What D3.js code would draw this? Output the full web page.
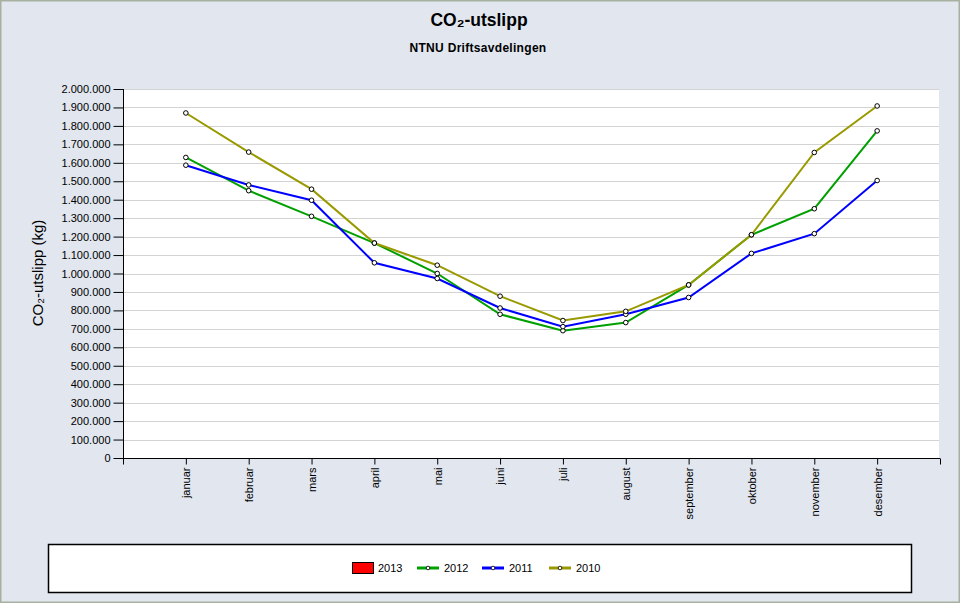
<!DOCTYPE html>
<html>
<head>
<meta charset="utf-8">
<script src="https://cdn.jsdelivr.net/npm/d3@7"></script>
<style>
  html, body { margin: 0; padding: 0; background: #fff; }
  svg { display: block; font-family: Arial, "Liberation Sans", sans-serif; }
</style>
</head>
<body>
<svg id="chart" width="960" height="603"></svg>
<script>
// ---- Data ----
const months = ["januar","februar","mars","april","mai","juni","juli","august","september","oktober","november","desember"];
const values2012 = [1629000, 1449000, 1310000, 1165000, 1000000, 779000, 690000, 734000, 938000, 1210000, 1351000, 1773000];
const values2011 = [1587000, 1480000, 1397000, 1058000, 973000, 813000, 712000, 779000, 870000, 1109000, 1216000, 1504000];
const values2010 = [1870000, 1658000, 1457000, 1165000, 1045000, 877000, 745000, 795000, 938000, 1210000, 1656000, 1908000];
const values2013 = []; // legend only, no data drawn
const yTicks = d3.range(0, 2000001, 100000);
const legendItems = [
  { label: "2013", type: "bar",  color: "#ff0000" },
  { label: "2012", type: "line", color: "#00a000" },
  { label: "2011", type: "line", color: "#0000ff" },
  { label: "2010", type: "line", color: "#999900" }
];
const series = [
  { name: "2012", color: "#00a000", values: values2012 },
  { name: "2011", color: "#0000ff", values: values2011 },
  { name: "2010", color: "#999900", values: values2010 }
];

// ---- Layout ----
const W = 960, H = 603;
const plot = { left: 123, right: 940, top: 89, bottom: 458 };
const svg = d3.select("#chart");

const nl = d3.formatLocale({ decimal: ",", thousands: ".", grouping: [3], currency: ["", ""] });
const fmt = nl.format(",d");

// background + frame
svg.append("rect").attr("x", 0).attr("y", 0).attr("width", W).attr("height", H).attr("fill", "#e1e6ef");
svg.append("rect").attr("x", 0.75).attr("y", 0.75).attr("width", W - 1.5).attr("height", H - 1.5)
  .attr("fill", "none").attr("stroke", "#a7b1a0").attr("stroke-width", 1.5);

// titles
svg.append("text").attr("x", 479).attr("y", 26).attr("text-anchor", "middle")
  .attr("font-size", 17.5).attr("font-weight", "bold").attr("fill", "#000").text("CO₂-utslipp");
svg.append("text").attr("x", 478).attr("y", 52).attr("text-anchor", "middle")
  .attr("font-size", 12).attr("font-weight", "bold").attr("letter-spacing", 0.3)
  .attr("fill", "#000").text("NTNU Driftsavdelingen");

// scales
const x = d3.scaleLinear().domain([0, 13]).range([plot.left, plot.right]);
const y = d3.scaleLinear().domain([0, 2000000]).range([plot.bottom, plot.top]);

// plot bg
svg.append("rect").attr("x", plot.left).attr("y", plot.top)
  .attr("width", plot.right - 1 - plot.left).attr("height", plot.bottom - plot.top).attr("fill", "#fff");

// gridlines
svg.append("g").selectAll("line").data(yTicks.filter(d => d > 0)).join("line")
  .attr("x1", plot.left).attr("x2", plot.right - 1)
  .attr("y1", d => Math.round(y(d)) + 0.5).attr("y2", d => Math.round(y(d)) + 0.5)
  .attr("stroke", "#d3d3d3").attr("stroke-width", 1);

// y axis
const yAxis = d3.axisLeft(y).tickValues(yTicks).tickFormat(fmt).tickSize(10).tickPadding(3);
const gy = svg.append("g").attr("transform", `translate(${plot.left + 0.5},0)`).call(yAxis);
gy.select(".domain").attr("d", `M0,${plot.top}V${plot.bottom + 6}`).attr("stroke", "#000");
gy.selectAll(".tick line").attr("stroke", "#000");
gy.selectAll(".tick text").attr("font-size", 11).attr("fill", "#000")
  .attr("font-family", "Arial, 'Liberation Sans', sans-serif");

// x axis
const xAxis = d3.axisBottom(x).tickValues(d3.range(0, 14))
  .tickFormat(d => (d >= 1 && d <= 12) ? months[d - 1] : "").tickSize(6);
const gx = svg.append("g").attr("transform", `translate(0,${plot.bottom + 0.5})`).call(xAxis);
gx.select(".domain").attr("d", `M${plot.left},0H${plot.right}`).attr("stroke", "#000");
gx.selectAll(".tick line").attr("stroke", "#000");
gx.selectAll(".tick text")
  .attr("font-size", 11).attr("fill", "#000")
  .attr("font-family", "Arial, 'Liberation Sans', sans-serif")
  .attr("text-anchor", "end")
  .attr("transform", "rotate(-90)")
  .attr("x", -9).attr("y", 0).attr("dy", "0.35em");

// y label
svg.append("text").attr("transform", "translate(43,273) rotate(-90)")
  .attr("text-anchor", "middle").attr("font-size", 15).attr("fill", "#000")
  .text("CO₂-utslipp (kg)");

// lines
const line = d3.line().x((d, i) => x(i + 1)).y(d => y(d));
const gl = svg.append("g");
series.forEach(s => {
  gl.append("path").datum(s.values).attr("d", line)
    .attr("fill", "none").attr("stroke", s.color).attr("stroke-width", 2);
});
series.forEach(s => {
  gl.append("g").selectAll("circle").data(s.values).join("circle")
    .attr("cx", (d, i) => x(i + 1)).attr("cy", d => y(d)).attr("r", 2.3)
    .attr("fill", "#fff").attr("stroke", "#000").attr("stroke-width", 1);
});

// legend
const lg = svg.append("g");
lg.append("rect").attr("x", 48.5).attr("y", 544.5).attr("width", 863).attr("height", 48)
  .attr("fill", "#fff").attr("stroke", "#000").attr("stroke-width", 1.5);
const legendX = [352, 417, 482, 549];
legendItems.forEach((it, i) => {
  const lx = legendX[i];
  if (it.type === "bar") {
    lg.append("rect").attr("x", lx + 0.5).attr("y", 562.5).attr("width", 21).attr("height", 11)
      .attr("fill", it.color).attr("stroke", "#000").attr("stroke-width", 1);
    lg.append("text").attr("x", lx + 26).attr("y", 572).attr("font-size", 11).attr("fill", "#000").text(it.label);
  } else {
    lg.append("line").attr("x1", lx).attr("x2", lx + 22).attr("y1", 568).attr("y2", 568)
      .attr("stroke", it.color).attr("stroke-width", 3);
    lg.append("circle").attr("cx", lx + 11).attr("cy", 568).attr("r", 1.8)
      .attr("fill", "#fff").attr("stroke", "#000").attr("stroke-width", 0.8);
    lg.append("text").attr("x", lx + 27).attr("y", 572).attr("font-size", 11).attr("fill", "#000").text(it.label);
  }
});
</script>
</body>
</html>
